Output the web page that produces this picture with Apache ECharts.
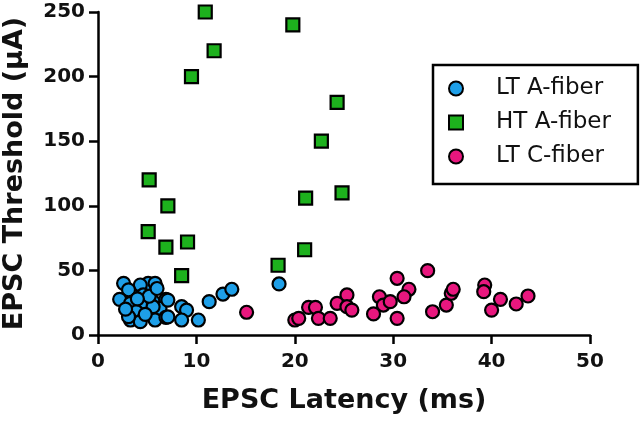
<!DOCTYPE html>
<html>
<head>
<meta charset="utf-8">
<script src="https://cdn.jsdelivr.net/npm/echarts@6/dist/echarts.min.js"></script>
<style>html,body{margin:0;padding:0;background:#fff;}#c{width:640px;height:422px;}</style>
</head>
<body>
<div id="c"></div>
<script>
const seriesNames = ['LT A-fiber', 'HT A-fiber', 'LT C-fiber'];
const xTicks = [0, 10, 20, 30, 40, 50];
const yTicks = [0, 50, 100, 150, 200, 250];
const ltA = [[2.6,40],[3.3,33.5],[5.1,40],[5.8,40],[4.3,38.7],[3.1,35],[2.2,27.6],[4.6,31],[3.3,24.5],[4.6,24.5],[5.6,25.8],[6.9,27.6],[3.9,18],[6.3,20.6],[5.6,21.9],[8.5,21.9],[9.0,19.3],[3.3,11.6],[4.3,10.3],[5.8,11.6],[6.9,13.7],[8.5,11.6],[10.2,11.6],[11.3,25.8],[12.7,31.7],[13.6,35.4],[18.4,39.5],[3.1,14.2],[2.8,20],[4.8,16],[5.2,30],[7.1,27],[7.1,14],[4.0,28],[6.0,36]];
const htA = [[10.9,250],[19.8,240],[11.8,220],[9.5,200],[24.3,180],[22.7,150],[5.2,120],[24.8,110],[21.1,106],[7.1,100],[5.1,80],[9.1,72],[6.9,68],[21.0,66],[18.3,54],[8.5,46]];
const ltC = [[15.1,17.6],[20.0,11.6],[20.4,12.9],[21.4,21.4],[22.1,21.4],[22.4,12.9],[23.6,12.9],[24.3,24.5],[25.3,31],[25.3,21.9],[25.8,19.3],[28.0,16.3],[28.6,29.6],[29.0,23.2],[29.7,25.8],[30.4,43.9],[31.6,35.4],[31.1,29.6],[30.4,12.9],[33.5,49.8],[34.0,18],[35.4,23.2],[35.9,32.3],[36.1,35.4],[39.3,38.7],[39.2,33.5],[40.0,19.3],[40.9,27.6],[42.5,24],[43.7,30.2]];
const colors = ['#1E9FE8', '#1DB11D', '#E8177E'];

const FONT = '"DejaVu Sans", sans-serif';
const chart = echarts.init(document.getElementById('c'), null, {renderer: 'canvas'});
const axisCommon = {
  axisLine: {show: true, onZero: false, lineStyle: {color: '#000', width: 2.5}},
  axisTick: {show: true, inside: false, length: 9, lineStyle: {color: '#000', width: 2.5}},
  splitLine: {show: false},
  axisLabel: {color: '#111', fontFamily: FONT, fontWeight: 'bold', fontSize: 20},
  nameTextStyle: {color: '#111', fontFamily: FONT, fontWeight: 'bold', fontSize: 27},
  nameLocation: 'middle'
};
function mkSeries(i, data, symbol) {
  return {
    name: seriesNames[i], type: 'scatter', data: data, symbol: symbol,
    symbolSize: 13,
    itemStyle: {color: colors[i], borderColor: '#000', borderWidth: 2.2, opacity: 1}
  };
}
chart.setOption({
  animation: false,
  grid: {left: 98, right: 50, top: 12, bottom: 87, containLabel: false, outerBoundsMode: 'none'},
  xAxis: Object.assign({}, axisCommon, {
    type: 'value', min: xTicks[0], max: xTicks[xTicks.length-1], interval: 10,
    name: 'EPSC Latency (ms)', nameGap: 52,
    axisLabel: Object.assign({}, axisCommon.axisLabel, {margin: 17})
  }),
  yAxis: Object.assign({}, axisCommon, {
    type: 'value', min: yTicks[0], max: yTicks[yTicks.length-1], interval: 50,
    name: 'EPSC Threshold (\u03bcA)', nameGap: 70,
    axisLabel: Object.assign({}, axisCommon.axisLabel, {margin: 13})
  }),
  legend: {
    orient: 'vertical', left: 433, top: 65,
    padding: [12, 27, 16, 15],
    itemGap: 11, itemWidth: 14, itemHeight: 14,
    borderColor: '#000', borderWidth: 2.5, backgroundColor: '#fff',
    textStyle: {fontFamily: FONT, fontSize: 23, color: '#111', padding: [0, 0, 0, 28]},
    data: seriesNames
  },
  series: [mkSeries(0, ltA, 'circle'), mkSeries(1, htA, 'rect'), mkSeries(2, ltC, 'circle')]
});
</script>
</body>
</html>
